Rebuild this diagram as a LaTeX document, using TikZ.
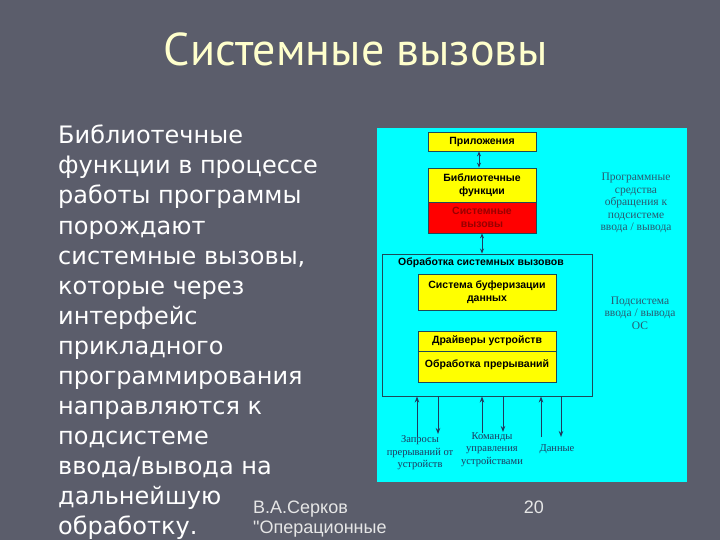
\documentclass[tikz,border=0pt]{standalone}
\usepackage{fontspec}
\setmainfont{DejaVu Sans}
\newfontfamily\titlefont{PT Sans}
\newfontfamily\arialfont{Liberation Sans}
\newfontfamily\timesfont{Liberation Serif}
\usetikzlibrary{arrows.meta}
\definecolor{bgc}{HTML}{5B5D6B}
\definecolor{titlec}{HTML}{FFFFCC}
\definecolor{cyanc}{HTML}{00FFFF}
\definecolor{yel}{HTML}{FFFF00}
\definecolor{redc}{HTML}{FF0000}
\definecolor{darkred}{HTML}{990000}
\definecolor{edgec}{HTML}{1E4A58}
\definecolor{lblc}{HTML}{2A5A70}
\definecolor{botc}{HTML}{1F3A5F}
\definecolor{footc}{HTML}{E6E6E6}
\tikzset{
  ybox/.style={draw=edgec, line width=0.8pt, fill=yel, inner sep=1pt, align=center,
    font=\arialfont\bfseries\fontsize{10.5}{12.5}\selectfont, text=black},
  rbox/.style={ybox, fill=redc, text=darkred},
  bigbox/.style={draw=edgec, line width=0.9pt},
  dbl/.style={{Stealth[length=5pt,width=4pt]}-{Stealth[length=5pt,width=4pt]}, line width=0.9pt, draw=botc},
  arr/.style={-{Stealth[length=6pt,width=4.5pt]}, line width=0.9pt, draw=botc},
  rlbl/.style={align=center, text=lblc, font=\timesfont\fontsize{11.5}{12.5}\selectfont, inner sep=0pt},
  blbl/.style={align=center, text=botc, font=\timesfont\fontsize{10.5}{12.5}\selectfont, inner sep=0pt},
  bodytext/.style={anchor=base west, text=white, font=\fontsize{24}{30}\selectfont, inner sep=0pt},
  foot/.style={text=footc, font=\arialfont\fontsize{18}{20}\selectfont, inner sep=0pt}
}
\begin{document}
\begin{tikzpicture}[x=1pt,y=-1pt]
\useasboundingbox (0,0) rectangle (720,540);
\fill[bgc] (0,0) rectangle (720,540);
% title
\node[anchor=base, text=titlec, font=\titlefont\fontsize{46}{50}\selectfont, inner sep=0pt] (title) at (356,66) {Системные вызовы};
% body text
\foreach \t [count=\i] in {Библиотечные,функции в процессе,работы программы,порождают,{системные вызовы,},которые через,интерфейс,прикладного,программирования,направляются к,подсистеме,ввода/вывода на,дальнейшую,обработку.}
  \node[bodytext] (line\i) at (58,{144+(\i-1)*30}) {\t};
% panel
\fill[cyanc] (377,128) rectangle (687,482);
% boxes
\node[ybox, minimum width=108pt, minimum height=19pt] (app) at (482,141.5) {Приложения};
\node[ybox, minimum width=108pt, minimum height=34pt] (lib) at (482,185) {Библиотечные\\функции};
\node[rbox, minimum width=108pt, minimum height=31pt] (sys) at (482,217.5) {Системные\\вызовы};
\node[bigbox, minimum width=210pt, minimum height=142pt] (big) at (487,325) {};
\node[anchor=west, font=\arialfont\bfseries\fontsize{10.5}{12.5}\selectfont, inner sep=0pt] (biglbl) at (398,263) {Обработка системных вызовов};
\node[ybox, minimum width=138pt, minimum height=36pt] (buf) at (487,292) {Система буферизации\\данных};
\node[ybox, minimum width=138pt, minimum height=20pt] (drv) at (487,341) {Драйверы устройств};
\node[ybox, minimum width=138pt, minimum height=31pt, text depth=0pt] (irq) at (487,366.5) {\raisebox{6pt}{Обработка прерываний}};
% arrows between boxes
\draw[dbl] ([xshift=-3pt]app.south) -- ([xshift=-3pt]lib.north);
\draw[dbl] (sys.south) -- (sys.south |- big.north);
% bottom arrows
\coordinate (u1) at (417,437);
\coordinate (d1) at (438,434);
\coordinate (u2) at (482,433);
\coordinate (d2) at (503,432);
\coordinate (u3) at (541,437);
\coordinate (d3) at (561,437);
\draw[arr] (u1) -- (u1 |- big.south);
\draw[arr] (d1 |- big.south) -- (d1);
\draw[arr] (u2) -- (u2 |- big.south);
\draw[arr] (d2 |- big.south) -- (d2);
\draw[arr] (u3) -- (u3 |- big.south);
\draw[arr] (d3 |- big.south) -- (d3);
% labels
\node[blbl] (lq) at (420,453) {Запросы\\прерываний от\\устройств};
\node[blbl] (lk) at (492,449.5) {Команды\\управления\\устройствами};
\node[blbl] (ld) at (557,449) {Данные};
\node[rlbl] (rp) at (636,203) {Программные\\средства\\обращения к\\подсистеме\\ввода / вывода};
\node[rlbl] (rs) at (640,313) {Подсистема\\ввода / вывода\\ОС};
% footer
\node[foot, anchor=base west] (f1) at (253,513) {В.А.Серков};
\node[foot, anchor=base west] (f2) at (253,533) {"Операционные};
\node[foot, anchor=base east] (f3) at (544,513) {20};
\end{tikzpicture}
\end{document}
